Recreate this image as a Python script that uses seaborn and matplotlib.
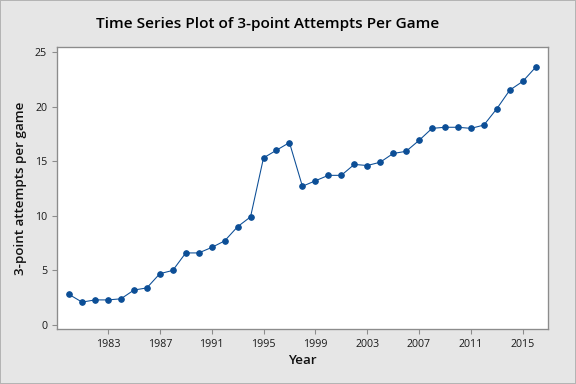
import numpy as np
import pandas as pd
import seaborn as sns
import matplotlib.pyplot as plt

# Season years and average 3-point attempts per game
years = list(range(1980, 2017))
attempts = [2.8, 2.1, 2.3, 2.3, 2.4, 3.2, 3.4, 4.7, 5.0, 6.6,
            6.6, 7.1, 7.7, 9.0, 9.9, 15.3, 16.0, 16.7, 12.7, 13.2,
            13.7, 13.7, 14.7, 14.6, 14.9, 15.7, 15.9, 16.9, 18.0, 18.1,
            18.1, 18.0, 18.3, 19.8, 21.5, 22.3, 23.6]
xtick_years = [1983, 1987, 1991, 1995, 1999, 2003, 2007, 2011, 2015]
ytick_vals = [0, 5, 10, 15, 20, 25]

df = pd.DataFrame({"Year": years, "Attempts": attempts})

sns.set_style("white")
plt.rcParams['font.family'] = ['Open Sans', 'DejaVu Sans']

fig = plt.figure(figsize=(6, 4), dpi=96, facecolor='#e6e6e6',
                 edgecolor='#b4b4b4', linewidth=1.5)
ax = fig.add_axes([0.099, 0.143, 0.852, 0.735])
ax.set_facecolor('white')

blue = '#0c4e96'
sns.lineplot(data=df, x="Year", y="Attempts", ax=ax, color=blue,
             linewidth=0.8, marker='o', markersize=4.2,
             markeredgecolor=blue, markerfacecolor=blue)

ax.set_xlim(1979.07, 2016.93)
ax.set_ylim(-0.37, 25.46)
ax.set_xticks(xtick_years)
ax.set_yticks(ytick_vals)
ax.tick_params(axis='both', direction='out', length=4, width=0.8,
               color='#8c8c8c', labelsize=8, labelcolor='#1a1a1a',
               bottom=True, left=True)
for s in ax.spines.values():
    s.set_color('#8c8c8c')
    s.set_linewidth(1.0)

ax.set_xlabel('Year', fontsize=10, fontweight='semibold', color='#111111', labelpad=3)
ax.set_ylabel('3-point attempts per game', fontsize=10, fontweight='semibold',
              color='#111111', labelpad=6)
fig.suptitle('Time Series Plot of 3-point Attempts Per Game', fontsize=11.5,
             fontweight='semibold', color='black', x=0.465, y=0.955)

fig.savefig('out.png', dpi=96, facecolor=fig.get_facecolor(), edgecolor=fig.get_edgecolor())
